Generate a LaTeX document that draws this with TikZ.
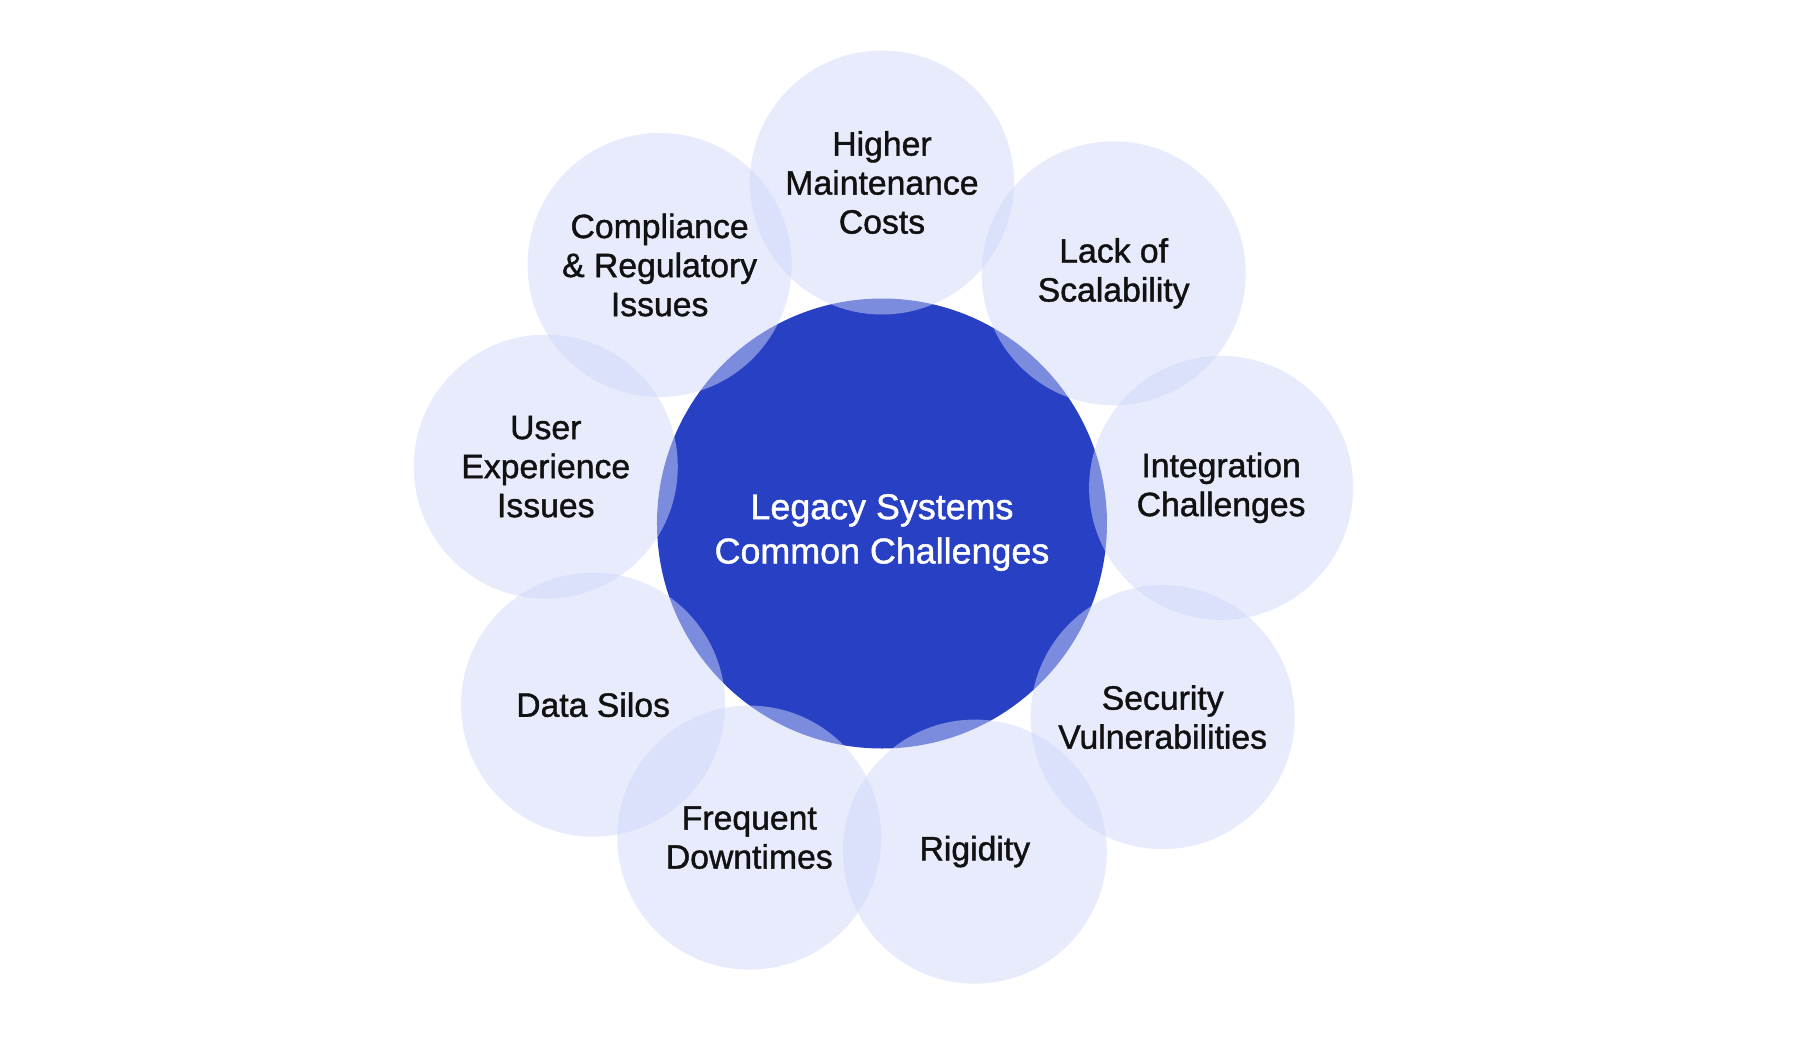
\documentclass[tikz,border=0pt]{standalone}
\usepackage{fontspec}
\setmainfont{Liberation Sans}[FakeBold=1.2]

\definecolor{coreblue}{HTML}{2840C3}
\definecolor{petal}{HTML}{CFD7F9}
\definecolor{inktext}{HTML}{111111}

\tikzset{
    core/.style={circle, fill=coreblue, minimum size=4.5cm, inner sep=0pt},
    coretext/.style={text=white, align=center, yshift=-0.09cm,
        font=\fontsize{10.2}{12.6}\selectfont},
    petalnode/.style={circle, fill=petal, fill opacity=0.5, text opacity=1,
        minimum size=2.64cm, inner sep=0pt, text=inktext, align=center,
        font=\fontsize{9.6}{11.1}\selectfont}
}

\begin{document}
\begin{tikzpicture}
        \useasboundingbox (-8.82,-5.175) rectangle (9.18,5.235);

        % Center
        \node[core, label={[coretext]center:Legacy Systems\\Common Challenges}] (core) at (0,0) {};

        % Petals around the center
        \foreach \ang/\nm/\txt in {
                90/maint/{Higher\\Maintenance\\Costs},
                47.2/scale/{Lack of\\Scalability},
                6/integ/{Integration\\Challenges},
                -34.6/secur/{Security\\Vulnerabilities},
                -74.2/rigid/{Rigidity},
                -112.9/downt/{Frequent\\Downtimes},
                -147.9/silos/{Data Silos},
                170.4/ux/{User\\Experience\\Issues},
                130.7/compl/{Compliance\\\& Regulatory\\Issues}}
            \node[petalnode] (\nm) at (\ang:3.41) {\txt};
    \end{tikzpicture}
\end{document}
